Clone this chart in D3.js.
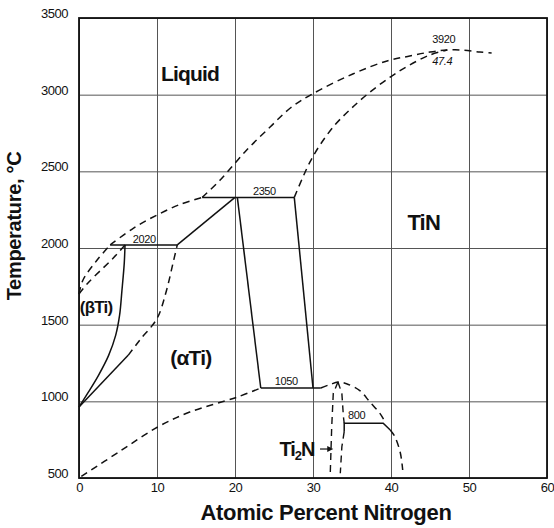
<!DOCTYPE html>
<html>
<head>
<meta charset="utf-8">
<script src="https://cdn.jsdelivr.net/npm/d3@7"></script>
<style>
  body { margin: 0; background: #fff; }
  svg { display: block; font-family: "Liberation Sans", Arial, sans-serif; }
</style>
</head>
<body>
<div id="viz"></div>
<script>
// ticks
var xTicks = [0, 10, 20, 30, 40, 50, 60];
var yTicks = [500, 1000, 1500, 2000, 2500, 3000, 3500];

// solid boundaries, [at.% N, temperature °C]
var line2020 = [[4.0, 2020], [12.6, 2020]];
var line2350 = [[15.8, 2330], [27.6, 2330]];
var line1050 = [[23.3, 1087], [31.0, 1087]];
var line800 = [[34.0, 802], [34.0, 857], [39.0, 857], [39.9, 813]];
var alphaSolidus = [[12.6, 2020], [20.0, 2330]];
var alphaSolvus = [[20.3, 2330], [23.3, 1087]];
var tinLeft = [[27.6, 2330], [30.0, 1087]];
var betaTransus = [[5.9, 2020], [5.8, 1900], [5.5, 1720], [5.2, 1560], [4.7, 1430], [3.8, 1300], [2.5, 1170], [1.2, 1060], [0, 963]];
var alphaTransus = [[0, 963], [6.3, 1300]];

// dashed (estimated) boundaries
var alphaTransusEst = [[6.3, 1300], [7.8, 1400], [10.0, 1540], [11.2, 1720], [12.0, 1890], [12.6, 2020]];
var liquidusLeft = [[0, 1700], [0.5, 1790], [2.3, 1920], [4.0, 2020]];
var betaSolidus = [[0, 1700], [1.15, 1772], [4.4, 1935], [5.9, 2020]];
var liquidusMid = [[4.0, 2020], [7, 2130], [10, 2215], [13, 2285], [15.8, 2330]];
var liquidusTop = [[15.8, 2330], [18.1, 2444], [21.5, 2639], [24.5, 2789], [27.1, 2913], [29.9, 3004], [35.1, 3135], [39.5, 3220], [42.4, 3252], [45.0, 3278], [47.2, 3291], [49.2, 3291], [51.4, 3278], [52.9, 3272]];
var tinSolidus = [[27.6, 2330], [28.6, 2450], [29.6, 2560], [30.9, 2672], [32.8, 2802], [34.7, 2900], [37.0, 3004], [39.9, 3115], [42.4, 3194], [45.0, 3259], [47.2, 3291]];
var alphaSolvusLow = [[0.3, 510], [5.3, 676], [10.1, 833], [14.2, 930], [20.3, 1028], [23.3, 1087]];
var ti2nDome = [[31.0, 1087], [32.2, 1110], [33.2, 1126], [34.3, 1115], [36.0, 1070], [37.3, 995], [38.6, 920], [39.2, 870]];
var tinSolvusLow = [[39.9, 813], [40.5, 769], [41.2, 663], [41.5, 552]];
var ti2nLeft = [[33.2, 1126], [32.6, 1052], [32.4, 835], [32.2, 508]];
var ti2nRightUp = [[33.2, 1126], [33.7, 1052], [33.9, 900], [34.0, 857]];
var ti2nRightLow = [[34.0, 802], [33.7, 704], [33.5, 531]];

// labels: [text, at.% N, T, size]
var phaseLabels = [
  ["Liquid", 10.5, 3090, 21],
  ["TiN", 42.1, 2117, 22],
  ["(βTi)", 0.1, 1576, 17],
  ["(αTi)", 11.7, 1237, 21]
];
var tempLabels = [
  ["2020", 6.9, 2033],
  ["2350", 22.3, 2345],
  ["1050", 25.1, 1107],
  ["800", 34.5, 885],
  ["3920", 45.3, 3337],
  ["47.4", 45.3, 3193]
];

var margin = { top: 18, right: 7, bottom: 50, left: 79 },
  width = 554 - margin.left - margin.right,
  height = 528 - margin.top - margin.bottom;

var svg = d3.select("#viz").append("svg")
  .attr("width", 554)
  .attr("height", 528)
  .append("g")
  .attr("transform", "translate(" + margin.left + "," + margin.top + ")");

var x = d3.scaleLinear().domain([0, 60]).range([0, width]);
var y = d3.scaleLinear().domain([500, 3500]).range([height, 0]);

// grid + tick labels
var xAxis = d3.axisBottom(x).tickValues(xTicks).tickFormat(d3.format("d")).tickSize(-height).tickPadding(5);
var yAxis = d3.axisLeft(y).tickValues(yTicks).tickFormat(d3.format("d")).tickSize(-width).tickPadding(11);

var gx = svg.append("g")
  .attr("transform", "translate(0," + height + ")")
  .call(xAxis);
var gy = svg.append("g").call(yAxis);

[gx, gy].forEach(function (g) {
  g.select(".domain").remove();
  g.selectAll("line").attr("stroke", "#555").attr("stroke-width", 1);
  g.selectAll("text")
    .attr("fill", "#111")
    .style("font-size", "13px")
    .style("letter-spacing", "-0.5px")
    .style("font-family", "'Liberation Sans', Arial, sans-serif");
});
gy.selectAll("text").attr("dy", "-0.05em");

// frame
svg.append("rect")
  .attr("width", width)
  .attr("height", height)
  .attr("fill", "none")
  .attr("stroke", "#111")
  .attr("stroke-width", 1.8);

var straight = d3.line().x(function (d) { return x(d[0]); }).y(function (d) { return y(d[1]); });
var smooth = d3.line().x(function (d) { return x(d[0]); }).y(function (d) { return y(d[1]); })
  .curve(d3.curveCatmullRom.alpha(0.5));

var solids = [line2020, line2350, line1050, line800, alphaSolidus, alphaSolvus, tinLeft, alphaTransus];
solids.forEach(function (pts) {
  svg.append("path").attr("d", straight(pts))
    .attr("fill", "none").attr("stroke", "#111").attr("stroke-width", 1.5);
});
svg.append("path").attr("d", smooth(betaTransus))
  .attr("fill", "none").attr("stroke", "#111").attr("stroke-width", 1.5);

var dashedSmooth = [alphaTransusEst, liquidusLeft, betaSolidus, liquidusMid, liquidusTop, tinSolidus, alphaSolvusLow, ti2nDome, tinSolvusLow];
dashedSmooth.forEach(function (pts) {
  svg.append("path").attr("d", smooth(pts))
    .attr("fill", "none").attr("stroke", "#111").attr("stroke-width", 1.5)
    .attr("stroke-dasharray", "7,5");
});
[ti2nLeft, ti2nRightUp, ti2nRightLow].forEach(function (pts) {
  svg.append("path").attr("d", straight(pts))
    .attr("fill", "none").attr("stroke", "#111").attr("stroke-width", 1.4)
    .attr("stroke-dasharray", "7,5");
});

// phase labels
svg.selectAll(".phase")
  .data(phaseLabels)
  .enter().append("text")
  .attr("class", "phase")
  .attr("x", function (d) { return x(d[1]); })
  .attr("y", function (d) { return y(d[2]); })
  .style("font-size", function (d) { return d[3] + "px"; })
  .style("font-weight", "bold")
  .style("letter-spacing", "-0.8px")
  .attr("fill", "#111")
  .text(function (d) { return d[0]; });

// Ti2N with arrow
var ti2n = svg.append("text")
  .attr("x", x(30.2))
  .attr("y", y(643))
  .attr("text-anchor", "end")
  .style("font-size", "20px")
  .style("font-weight", "bold")
  .style("letter-spacing", "-1px")
  .attr("fill", "#111");
ti2n.append("tspan").text("Ti");
ti2n.append("tspan").attr("dy", 4).style("font-size", "13px").text("2");
ti2n.append("tspan").attr("dy", -4).text("N");

svg.append("line")
  .attr("x1", x(30.9)).attr("x2", x(32.2))
  .attr("y1", y(689)).attr("y2", y(689))
  .attr("stroke", "#111").attr("stroke-width", 1.2);
svg.append("path")
  .attr("d", "M" + x(32.6) + "," + y(689) + "l-6,-3l0,6z")
  .attr("fill", "#111");

// temperature labels
svg.selectAll(".temp")
  .data(tempLabels)
  .enter().append("text")
  .attr("class", "temp")
  .attr("x", function (d) { return x(d[1]); })
  .attr("y", function (d) { return y(d[2]); })
  .style("font-size", "11px")
  .style("letter-spacing", "-0.4px")
  .style("font-style", function (d) { return d[0] == "47.4" ? "italic" : "normal"; })
  .attr("fill", "#111")
  .text(function (d) { return d[0]; });

// axis titles
svg.append("text")
  .attr("x", 247)
  .attr("y", height + 42)
  .attr("text-anchor", "middle")
  .style("font-size", "22px")
  .style("font-weight", "bold")
  .style("letter-spacing", "-0.3px")
  .attr("fill", "#111")
  .text("Atomic Percent Nitrogen");

svg.append("text")
  .attr("transform", "rotate(-90)")
  .attr("x", -(226 - margin.top))
  .attr("y", -58)
  .attr("text-anchor", "middle")
  .style("font-size", "20px")
  .style("font-weight", "bold")
  .style("letter-spacing", "-0.3px")
  .attr("fill", "#111")
  .text("Temperature, °C");
</script>
</body>
</html>
